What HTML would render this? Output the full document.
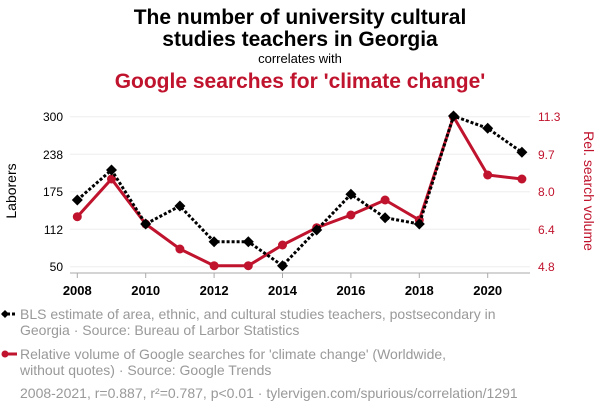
<!DOCTYPE html>
<html><head><meta charset="utf-8"><style>
body{margin:0;background:#fff;}
svg text{font-family:"Liberation Sans",Arial,sans-serif;}
</style></head><body>
<svg width="600" height="414" viewBox="0 0 600 414" xmlns="http://www.w3.org/2000/svg">
<text x="300" y="24" font-size="21" font-weight="bold" text-anchor="middle" fill="#000">The number of university cultural</text>
<text x="300" y="46" font-size="21" font-weight="bold" text-anchor="middle" fill="#000">studies teachers in Georgia</text>
<text x="300" y="63" font-size="13" text-anchor="middle" fill="#000">correlates with</text>
<text x="300" y="88" font-size="21" font-weight="bold" text-anchor="middle" fill="#c0132d">Google searches for 'climate change'</text>
<g stroke="#eee" stroke-width="1">
<line x1="70" x2="530" y1="116.7" y2="116.7"/><line x1="70" x2="530" y1="154.3" y2="154.3"/><line x1="70" x2="530" y1="191.7" y2="191.7"/><line x1="70" x2="530" y1="229.3" y2="229.3"/><line x1="70" x2="530" y1="266.7" y2="266.7"/>
</g>
<line x1="70" x2="530" y1="273" y2="273" stroke="#aaa"/>
<g stroke="#aaa"><line x1="77.3" x2="77.3" y1="273" y2="278"/><line x1="145.7" x2="145.7" y1="273" y2="278"/><line x1="214.1" x2="214.1" y1="273" y2="278"/><line x1="282.5" x2="282.5" y1="273" y2="278"/><line x1="350.9" x2="350.9" y1="273" y2="278"/><line x1="419.3" x2="419.3" y1="273" y2="278"/><line x1="487.7" x2="487.7" y1="273" y2="278"/></g>
<g font-size="13" font-weight="bold" text-anchor="middle" fill="#000">
<text x="77.3" y="295">2008</text><text x="145.7" y="295">2010</text><text x="214.1" y="295">2012</text><text x="282.5" y="295">2014</text><text x="350.9" y="295">2016</text><text x="419.3" y="295">2018</text><text x="487.7" y="295">2020</text>
</g>
<g font-size="12" text-anchor="end" fill="#000">
<text x="63" y="121">300</text><text x="63" y="159">238</text><text x="63" y="196">175</text><text x="63" y="234">112</text><text x="63" y="271">50</text>
</g>
<g font-size="12" fill="#c0132d">
<text x="538" y="121">11.3</text><text x="538" y="159">9.7</text><text x="538" y="196">8.0</text><text x="538" y="234">6.4</text><text x="538" y="271">4.8</text>
</g>
<text transform="translate(16,191) rotate(-90)" font-size="14" text-anchor="middle" fill="#000">Laborers</text>
<text transform="translate(584,191) rotate(90)" font-size="14" text-anchor="middle" fill="#c0132d">Rel. search volume</text>
<polyline fill="none" stroke="#c0132d" stroke-width="3" points="77.3,216.7 111.5,179 145.7,224 179.9,249 214.1,265.7 248.3,265.7 282.5,245 316.7,227.7 350.9,215 385.1,200 419.3,220 453.5,116.7 487.7,175 521.9,179"/>
<g fill="#c0132d">
<circle cx="77.3" cy="216.7" r="4.5"/><circle cx="111.5" cy="179" r="4.5"/><circle cx="145.7" cy="224" r="4.5"/><circle cx="179.9" cy="249" r="4.5"/><circle cx="214.1" cy="265.7" r="4.5"/><circle cx="248.3" cy="265.7" r="4.5"/><circle cx="282.5" cy="245" r="4.5"/><circle cx="316.7" cy="227.7" r="4.5"/><circle cx="350.9" cy="215" r="4.5"/><circle cx="385.1" cy="200" r="4.5"/><circle cx="419.3" cy="220" r="4.5"/><circle cx="453.5" cy="116.7" r="4.5"/><circle cx="487.7" cy="175" r="4.5"/><circle cx="521.9" cy="179" r="4.5"/>
</g>
<polyline fill="none" stroke="#000" stroke-width="3" stroke-dasharray="3,2" points="77.3,200 111.5,170 145.7,224 179.9,206 214.1,241.7 248.3,241.7 282.5,265.7 316.7,230 350.9,194.3 385.1,217.7 419.3,224 453.5,116 487.7,128.3 521.9,152.3"/>
<g fill="#000">
<path d="M77.3,194.5l5.5,5.5l-5.5,5.5l-5.5,-5.5z"/><path d="M111.5,164.5l5.5,5.5l-5.5,5.5l-5.5,-5.5z"/><path d="M145.7,218.5l5.5,5.5l-5.5,5.5l-5.5,-5.5z"/><path d="M179.9,200.5l5.5,5.5l-5.5,5.5l-5.5,-5.5z"/><path d="M214.1,236.2l5.5,5.5l-5.5,5.5l-5.5,-5.5z"/><path d="M248.3,236.2l5.5,5.5l-5.5,5.5l-5.5,-5.5z"/><path d="M282.5,260.2l5.5,5.5l-5.5,5.5l-5.5,-5.5z"/><path d="M316.7,224.5l5.5,5.5l-5.5,5.5l-5.5,-5.5z"/><path d="M350.9,188.8l5.5,5.5l-5.5,5.5l-5.5,-5.5z"/><path d="M385.1,212.2l5.5,5.5l-5.5,5.5l-5.5,-5.5z"/><path d="M419.3,218.5l5.5,5.5l-5.5,5.5l-5.5,-5.5z"/><path d="M453.5,110.5l5.5,5.5l-5.5,5.5l-5.5,-5.5z"/><path d="M487.7,122.8l5.5,5.5l-5.5,5.5l-5.5,-5.5z"/><path d="M521.9,146.8l5.5,5.5l-5.5,5.5l-5.5,-5.5z"/>
</g>
<line x1="2" x2="17" y1="314" y2="314" stroke="#000" stroke-width="3" stroke-dasharray="3,2"/>
<path d="M5,310l4,4l-4,4l-4,-4z" fill="#000"/>
<line x1="2" x2="17" y1="354" y2="354" stroke="#c0132d" stroke-width="3"/>
<circle cx="5" cy="354" r="3.5" fill="#c0132d"/>
<g font-size="14" fill="#999">
<text x="20" y="319">BLS estimate of area, ethnic, and cultural studies teachers, postsecondary in</text>
<text x="20" y="335">Georgia · Source: Bureau of Larbor Statistics</text>
<text x="20" y="359">Relative volume of Google searches for 'climate change' (Worldwide,</text>
<text x="20" y="375">without quotes) · Source: Google Trends</text>
<text x="20" y="398">2008-2021, r=0.887, r²=0.787, p&lt;0.01 · tylervigen.com/spurious/correlation/1291</text>
</g>
</svg>
</body></html>
